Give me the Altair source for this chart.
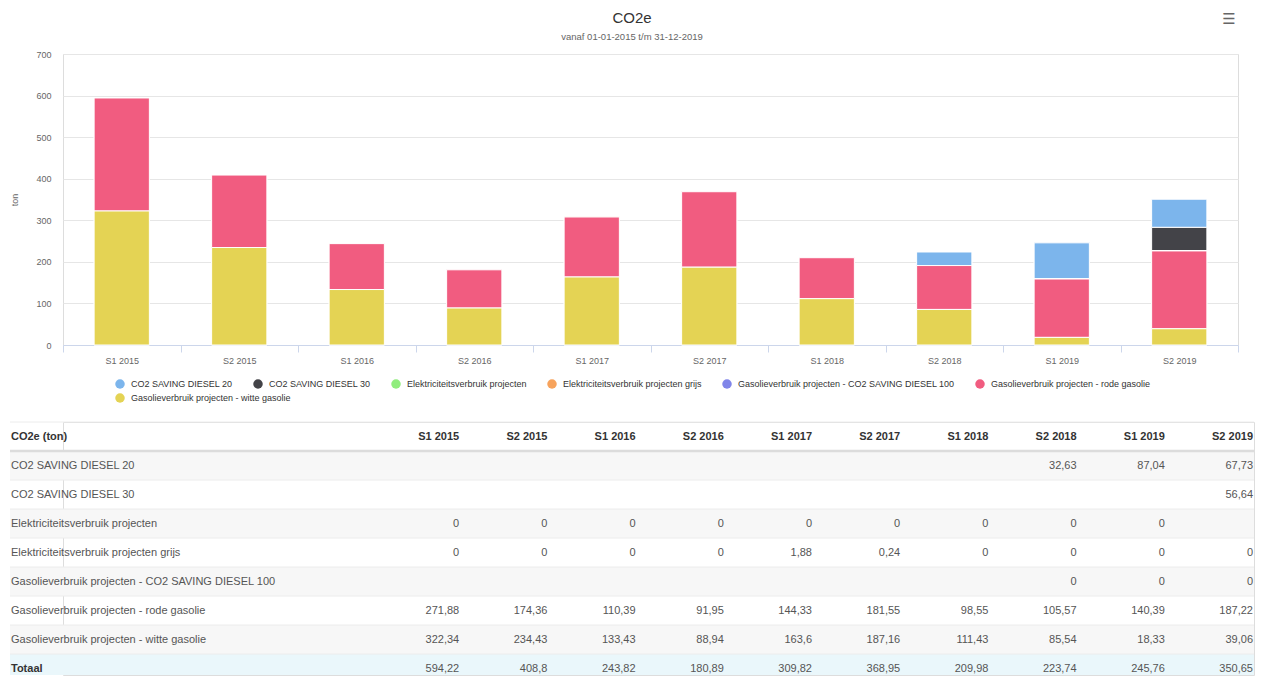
import altair as alt
import pandas as pd

FONT = "'Liberation Sans', Arial, sans-serif"

TITLE = "CO2e"
SUBTITLE = "vanaf 01-01-2015 t/m 31-12-2019"
Y_TITLE = "ton"
TABLE_HEAD = "CO2e (ton)"
TOTAL_LABEL = "Totaal"

PERIODS = ["S1 2015", "S2 2015", "S1 2016", "S2 2016", "S1 2017",
           "S2 2017", "S1 2018", "S2 2018", "S1 2019", "S2 2019"]

SERIES = [
    "CO2 SAVING DIESEL 20",
    "CO2 SAVING DIESEL 30",
    "Elektriciteitsverbruik projecten",
    "Elektriciteitsverbruik projecten grijs",
    "Gasolieverbruik projecten - CO2 SAVING DIESEL 100",
    "Gasolieverbruik projecten - rode gasolie",
    "Gasolieverbruik projecten - witte gasolie",
]
COLORS = ["#7cb5ec", "#434348", "#90ed7d", "#f7a35c", "#8085e9", "#f15c80", "#e4d354"]

N = None
DIESEL_20 = [N, N, N, N, N, N, N, 32.63, 87.04, 67.73]
DIESEL_30 = [N, N, N, N, N, N, N, N, N, 56.64]
ELEK = [0, 0, 0, 0, 0, 0, 0, 0, 0, N]
ELEK_GRIJS = [0, 0, 0, 0, 1.88, 0.24, 0, 0, 0, 0]
DIESEL_100 = [N, N, N, N, N, N, N, 0, 0, 0]
RODE = [271.88, 174.36, 110.39, 91.95, 144.33, 181.55, 98.55, 105.57, 140.39, 187.22]
WITTE = [322.34, 234.43, 133.43, 88.94, 163.6, 187.16, 111.43, 85.54, 18.33, 39.06]
TOTAAL = [594.22, 408.8, 243.82, 180.89, 309.82, 368.95, 209.98, 223.74, 245.76, 350.65]

VALUES = [DIESEL_20, DIESEL_30, ELEK, ELEK_GRIJS, DIESEL_100, RODE, WITTE]


def nl(v):
    s = f"{v:.2f}".rstrip("0").rstrip(".")
    return s.replace(".", ",")


# ---------------- bar chart data ----------------
bar_rows = []
for si, (s, vals) in enumerate(zip(SERIES, VALUES)):
    for p, v in zip(PERIODS, vals):
        if v is not None:
            bar_rows.append({"period": p, "series": s, "value": v,
                             "stack": len(SERIES) - 1 - si})
bars_df = pd.DataFrame(bar_rows)

W, H = 1175, 291
LEFT = 53  # distance from page content edge to plot left (table overhang)


def color_enc(vals, ly):
    return alt.Color(
        "series:N",
        scale=alt.Scale(domain=SERIES, range=COLORS),
        legend=alt.Legend(
            title=None, values=vals, orient="none", legendX=52, legendY=ly,
            direction="horizontal", symbolType="circle", symbolSize=90,
            symbolStrokeWidth=0, labelFontSize=9, labelColor="#333333",
            labelFont=FONT, columnPadding=20, labelOffset=6, labelLimit=500,
            padding=0,
        ),
    )


x_enc = alt.X(
    "period:N",
    scale=alt.Scale(domain=PERIODS, paddingInner=0, paddingOuter=0),
    axis=alt.Axis(title=None, labelAngle=0, tickBand="extent",
                  domainColor="#ccd6eb", tickColor="#ccd6eb", tickSize=7,
                  labelColor="#666666", labelFontSize=9, labelPadding=4,
                  labelFont=FONT, grid=False),
)
y_enc = alt.Y(
    "value:Q", stack="zero",
    scale=alt.Scale(domain=[0, 700], nice=False),
    axis=alt.Axis(title=Y_TITLE, values=list(range(0, 701, 100)), grid=True,
                  gridColor="#e6e6e6", domain=False, ticks=False,
                  labelPadding=12, labelColor="#666666", labelFontSize=9,
                  labelFont=FONT, titleFont=FONT, titleFontSize=9,
                  titleFontWeight="normal", titleColor="#666666",
                  titlePadding=17, minExtent=27, maxExtent=27),
)
order_enc = alt.Order("stack:Q", sort="ascending")

base_bar = alt.Chart(bars_df).mark_bar(
    width=alt.RelativeBandSize(0.47), stroke="white", strokeWidth=1
)
bars1 = base_bar.encode(x=x_enc, y=y_enc, order=order_enc,
                        color=color_enc(SERIES[:6], 325))
bars2 = base_bar.encode(x=x_enc, y=y_enc, order=order_enc,
                        color=color_enc(SERIES[6:], 339))

title_mark = alt.Chart(pd.DataFrame({"t": [TITLE]})).mark_text(
    font=FONT, fontSize=15, color="#333333", align="center", baseline="middle"
).encode(text="t:N", x=alt.value(569), y=alt.value(-36))
subtitle_mark = alt.Chart(pd.DataFrame({"t": [SUBTITLE]})).mark_text(
    font=FONT, fontSize=9.5, color="#666666", align="center", baseline="middle"
).encode(text="t:N", x=alt.value(569), y=alt.value(-17))
icon_mark = alt.Chart(pd.DataFrame({"t": ["☰"]})).mark_text(
    font="DejaVu Sans", fontSize=15, color="#666666", align="center",
    baseline="middle"
).encode(text="t:N", x=alt.value(1166), y=alt.value(-35))

bar_panel = alt.layer(bars1, bars2, title_mark, subtitle_mark, icon_mark).resolve_legend(
    color="independent"
).properties(width=W, height=H)

# ---------------- table ----------------
ROWS = [TABLE_HEAD] + SERIES + [TOTAL_LABEL]
rows_df = pd.DataFrame({"row": ROWS, "idx": list(range(len(ROWS)))})

cells = []
for p in PERIODS:
    cells.append({"row": TABLE_HEAD, "period": p, "txt": p, "kind": "head"})
for s, vals in zip(SERIES, VALUES):
    for p, v in zip(PERIODS, vals):
        if v is not None:
            cells.append({"row": s, "period": p, "txt": nl(v), "kind": "body"})
for p, v in zip(PERIODS, TOTAAL):
    cells.append({"row": TOTAL_LABEL, "period": p, "txt": nl(v), "kind": "total"})
cells_df = pd.DataFrame(cells)

TW, TH, RH = 1191, 253, 29
STEP = 88.2
yscale = alt.Scale(domain=ROWS, range=[0, RH * len(ROWS)], paddingInner=0, paddingOuter=0)
xscale = alt.Scale(domain=PERIODS, range=[TW - 1 - 10 * STEP, TW - 1],
                   paddingInner=0, paddingOuter=0)


def ycell(bp=None):
    if bp is None:
        return alt.Y("row:N", scale=yscale, axis=None)
    return alt.Y("row:N", scale=yscale, axis=None, bandPosition=bp)


X0 = alt.value(-LEFT)
X1 = alt.value(TW)
XL = alt.value(-LEFT + 1)

rows_base = alt.Chart(rows_df)
stripes = rows_base.transform_filter("datum.idx % 2 == 1 && datum.idx < 8").mark_rect(
    color="#f7f7f7").encode(y=ycell(), x=X0, x2=X1)
total_band = rows_base.transform_filter("datum.idx == 8").mark_rect(
    color="#eaf7fb").encode(y=ycell(0), y2=alt.value(TH), x=X0, x2=X1)
top_line = rows_base.transform_filter("datum.idx == 0").mark_rule(
    color="#ececec", strokeWidth=1).encode(y=ycell(0), x=X0, x2=X1)
head_line = rows_base.transform_filter("datum.idx == 0").mark_rule(
    color="#dcdcdc", strokeWidth=2.5).encode(y=ycell(1), x=X0, x2=X1)
row_lines = rows_base.transform_filter("datum.idx >= 1 && datum.idx < 8").mark_rule(
    color="#ececec", strokeWidth=1).encode(y=ycell(1), x=X0, x2=X1)

head_label = rows_base.transform_filter("datum.idx == 0").mark_text(
    font=FONT, fontSize=11, fontWeight="bold", color="#333333", align="left",
    baseline="middle").encode(text="row:N", y=ycell(), x=XL)
body_label = rows_base.transform_filter("datum.idx >= 1 && datum.idx < 8").mark_text(
    font=FONT, fontSize=11, color="#555555", align="left", baseline="middle"
).encode(text="row:N", y=ycell(), x=XL)
total_label = rows_base.transform_filter("datum.idx == 8").mark_text(
    font=FONT, fontSize=11, fontWeight="bold", color="#333333", align="left",
    baseline="middle").encode(text="row:N", y=ycell(), x=XL)

cells_base = alt.Chart(cells_df)
xcell = alt.X("period:N", scale=xscale, axis=None)
head_vals = cells_base.transform_filter("datum.kind == 'head'").mark_text(
    font=FONT, fontSize=11, fontWeight="bold", color="#333333", align="right",
    baseline="middle", dx=STEP / 2).encode(text="txt:N", x=xcell, y=ycell())
body_vals = cells_base.transform_filter("datum.kind != 'head'").mark_text(
    font=FONT, fontSize=11, color="#555555", align="right",
    baseline="middle", dx=STEP / 2).encode(text="txt:N", x=xcell, y=ycell())

table_panel = alt.layer(
    stripes, total_band, top_line, head_line, row_lines,
    head_label, body_label, total_label, head_vals, body_vals
).properties(width=TW, height=TH)

chart = alt.vconcat(bar_panel, table_panel, spacing=17).properties(
    padding={"left": 0, "top": 2, "right": 0, "bottom": 0}
).configure_view(stroke=None).configure(font=FONT)

chart.save("out.html", embed_options={"renderer": "svg", "actions": False})
